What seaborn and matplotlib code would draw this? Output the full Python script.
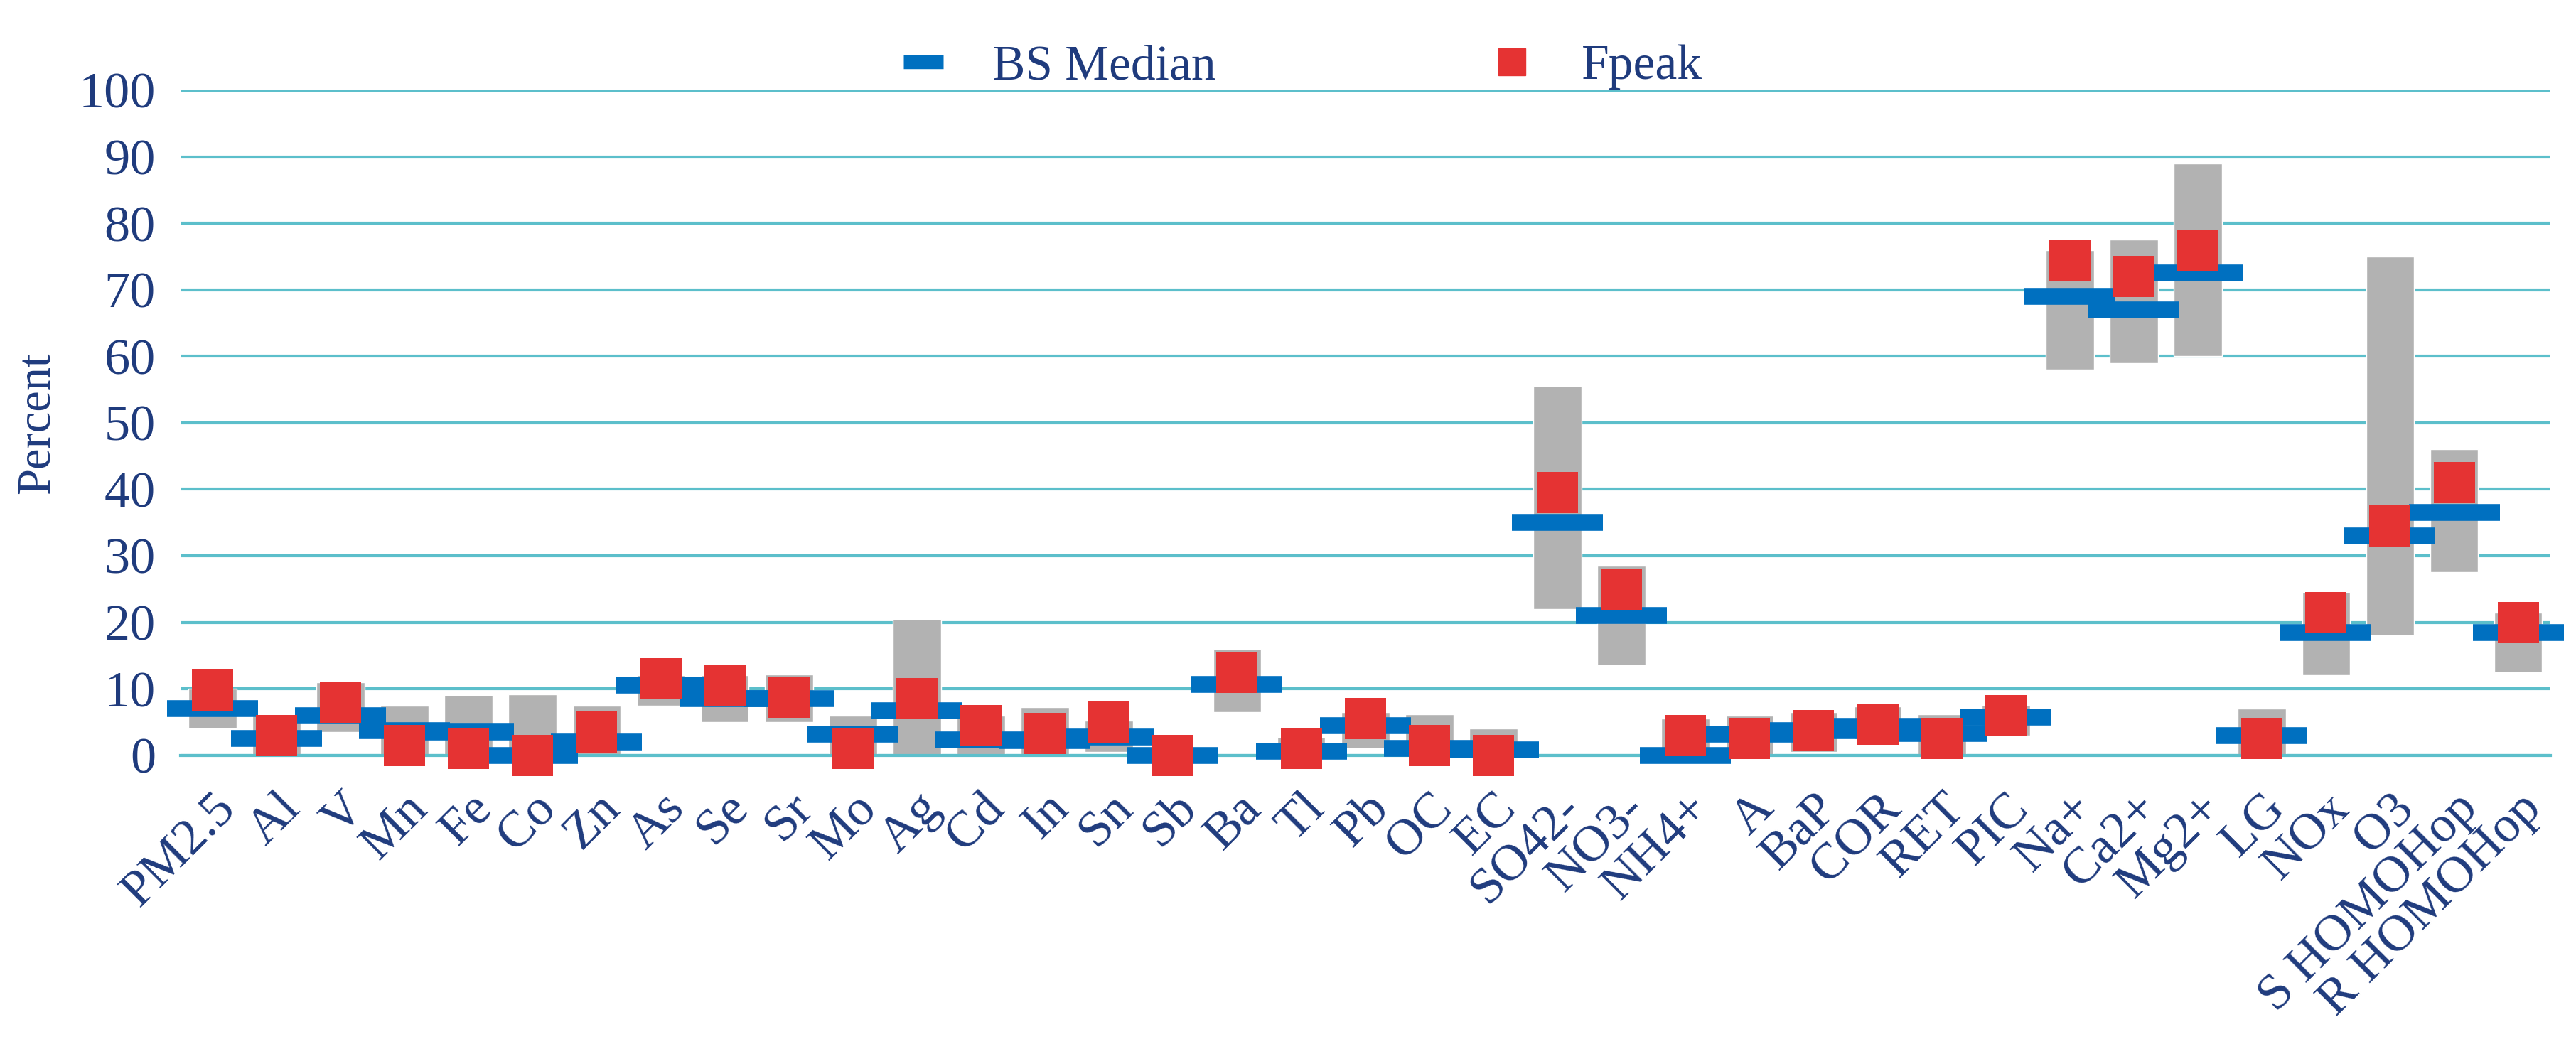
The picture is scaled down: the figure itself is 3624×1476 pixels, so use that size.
import numpy as np
import pandas as pd
import matplotlib
matplotlib.use('Agg')
import matplotlib.pyplot as plt
import seaborn as sns
from matplotlib.lines import Line2D

# 数据
species = ['PM2.5', 'Al', 'V', 'Mn', 'Fe', 'Co', 'Zn', 'As', 'Se', 'Sr', 'Mo', 'Ag', 'Cd', 'In', 'Sn',
           'Sb', 'Ba', 'Tl', 'Pb', 'OC', 'EC', 'SO42-', 'NO3-', 'NH4+', 'A', 'BaP', 'COR', 'RET', 'PIC',
           'Na+', 'Ca2+', 'Mg2+', 'LG', 'NOx', 'O3', 'S HOMOHop', 'R HOMOHop']
low = [4, 0, 3.5, 0, 0, 0, 0, 7.5, 5, 5, 0, 0, 0, 0, 0.5,
       0, 6.5, 0, 1, 0, 0, 22, 13.5, 0, 0, 0.5, 2.4, 0, 3,
       58, 59, 60, 0, 12, 18, 27.5, 12.5]
high = [10, 6, 11, 7.5, 9, 9.2, 7.4, 12, 12, 12.2, 6, 20.5, 6, 7.2, 5.2,
        1.3, 16, 2.8, 6.5, 6.2, 4, 55.5, 28.5, 5.5, 6, 6.5, 7.3, 6.2, 7.6,
        76, 77.5, 89, 7, 24.5, 75, 46, 21.5]
median = [7, 2.5, 6, 3.7, 3.5, 0, 2, 10.5, 8.5, 8.5, 3.2, 6.7, 2.3, 2.2, 2.7,
          0, 10.7, 0.6, 4.5, 1, 0.8, 35, 21, 0, 3.2, 3.7, 4.4, 3.3, 5.7,
          69, 67, 72.5, 3, 18.5, 33, 36.5, 18.5]
fpeak = [9.8, 3, 8, 1.5, 1, 0, 3.5, 11.5, 10.5, 8.7, 1, 8.5, 4.5, 3.3, 5,
         0, 12.5, 1, 5.5, 1.5, 0, 39.5, 25, 3, 2.5, 3.7, 4.7, 2.5, 6,
         74.5, 72, 76, 2.5, 21.5, 34.5, 41, 20]

df = pd.DataFrame({'species': species, 'low': low, 'high': high,
                   'median': median, 'fpeak': fpeak})
df['span'] = df['high'] - df['low']

navy = '#1F3B7D'
teal = '#5CBFCB'

sns.set_style('white')
plt.rcParams['font.family'] = ['Liberation Serif', 'DejaVu Serif']

fig, ax = plt.subplots(figsize=(36.24, 14.76), dpi=100)
fig.subplots_adjust(left=0.07, right=0.99, top=0.914, bottom=0.28)

sns.barplot(data=df, x='species', y='span', bottom=df['low'], color='#B2B2B2',
            width=0.75, saturation=1, ax=ax, zorder=2)
sns.scatterplot(data=df, x='species', y='median', marker='_', s=8500, linewidth=17,
                color='#0070C0', ax=ax, zorder=3, legend=False)
sns.scatterplot(data=df, x='species', y='fpeak', marker='s', s=1750, linewidth=0,
                color='#E53333', ax=ax, zorder=4, legend=False)
for coll in ax.collections:
    coll.set_clip_on(False)

ax.set_xlim(-0.5, len(species) - 0.5)
ax.set_ylim(0, 100)
ax.set_yticks(range(0, 101, 10))
ax.yaxis.grid(True, color=teal, linewidth=3)
ax.set_axisbelow(True)
for s in ['top', 'right', 'left']:
    ax.spines[s].set_visible(False)
ax.spines['bottom'].set_color(teal)
ax.spines['bottom'].set_linewidth(3)

ax.set_xticks(np.arange(len(species)))
ax.set_xticklabels(species, rotation=45, ha='right', rotation_mode='anchor')
ax.set_xticks(np.arange(-0.5, len(species)), minor=True)
ax.tick_params(axis='x', which='major', length=0, labelsize=52, labelcolor=navy, pad=30)
ax.tick_params(axis='x', which='minor', length=22, width=3, color=teal)
ax.tick_params(axis='y', length=0, labelsize=52, labelcolor=navy, pad=25)
ax.set_xlabel('')
ax.set_ylabel('Percent', fontsize=48, color=navy, labelpad=20)

handles = [Line2D([], [], color='#0070C0', marker='_', linestyle='', markersize=40, markeredgewidth=14),
           Line2D([], [], color='#E53333', marker='s', linestyle='', markersize=28)]
fig.legend(handles, ['BS Median', 'Fpeak'], loc='upper center', ncol=2, frameon=False,
           fontsize=50, labelcolor=navy, bbox_to_anchor=(0.5, 1.0), columnspacing=5,
           handletextpad=0.4)

fig.savefig('out.png', dpi=100)
